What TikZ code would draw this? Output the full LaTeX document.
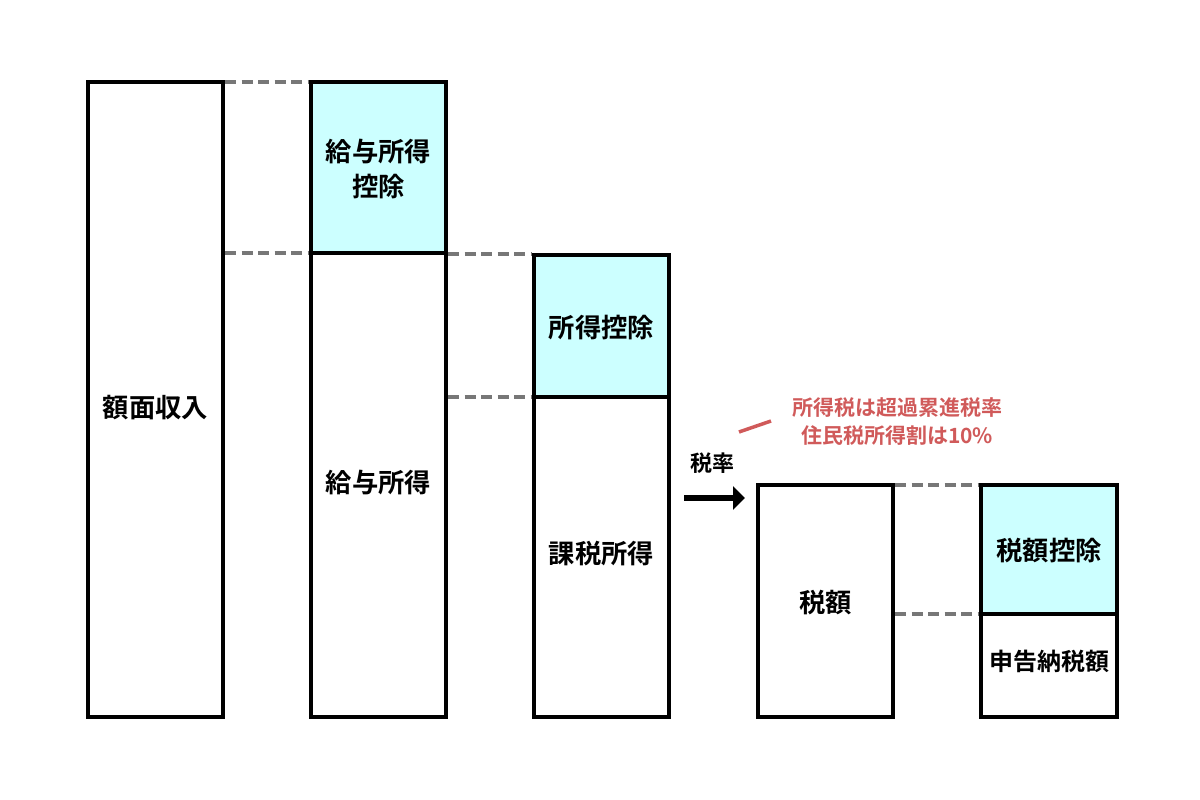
\documentclass[tikz,border=0pt]{standalone}
\usepackage{fontspec}
\newfontfamily\jp{Noto Sans CJK JP Bold}
\usetikzlibrary{arrows.meta}
\definecolor{cyanfill}{HTML}{CCFFFF}
\definecolor{dashgray}{HTML}{777777}
\definecolor{notered}{HTML}{D05A5A}
\begin{document}
\begin{tikzpicture}[x=1pt,y=-1pt,
  bar/.style={draw=black,line width=3.5pt,fill=white},
  ded/.style={draw=black,line width=3.5pt,fill=cyanfill},
  lab/.style={font=\jp\fontsize{26.3}{35}\selectfont,text=black},
  small/.style={font=\jp\fontsize{24}{28}\selectfont,text=black},
  guide/.style={draw=dashgray,line width=3.5pt,dash pattern=on 11pt off 5.5pt},
  note/.style={font=\jp\fontsize{21}{28}\selectfont,text=notered,align=center}]
\useasboundingbox (0,0) rectangle (1200,800);
% box 1
\draw[bar] (88,82) rectangle (223,717);
\node[lab] (b1) at (155.5,408) {額面収入};
% box 2
\draw[ded] (311,82) rectangle (446,253);
\draw[bar] (311,253) rectangle (446,717);
\node[lab,align=center] (b2a) at (378.5,169) {給与所得\\控除};
\node[lab] (b2b) at (378.5,483) {給与所得};
% box 3
\draw[ded] (534,255) rectangle (669,397);
\draw[bar] (534,397) rectangle (669,717);
\node[lab] (b3a) at (601.5,328) {所得控除};
\node[lab] (b3b) at (601.5,554) {課税所得};
% box 4
\draw[bar] (758,485) rectangle (893,717);
\node[lab] (b4) at (825.5,603) {税額};
% box 5
\draw[ded] (981,485) rectangle (1117,614);
\draw[bar] (981,614) rectangle (1117,717);
\node[lab] (b5a) at (1049,551) {税額控除};
\node[small] (b5b) at (1049,661) {申告納税額};
% dashed guides
\draw[guide] (225,82) -- (309,82);
\draw[guide] (225,253) -- (309,253);
\draw[guide] (448,254) -- (532,254);
\draw[guide] (448,397) -- (532,397);
\draw[guide] (895,485) -- (979,485);
\draw[guide] (895,614) -- (979,614);
% arrow
\coordinate (as) at (684,498);
\coordinate (ae) at (745,498);
\draw[line width=6pt,-{Triangle[length=12pt,width=23pt]}] (as) -- (ae);
\node[font=\jp\fontsize{22}{26}\selectfont] (rate) at (712,463) {税率};
% note
\node[note] (nt) at (897,422) {所得税は超過累進税率\\住民税所得割は10\%};
\coordinate (n1) at (739,432);
\coordinate (n2) at (771,421);
\draw[notered,line width=3.5pt] (n1) -- (n2);
\end{tikzpicture}
\end{document}
